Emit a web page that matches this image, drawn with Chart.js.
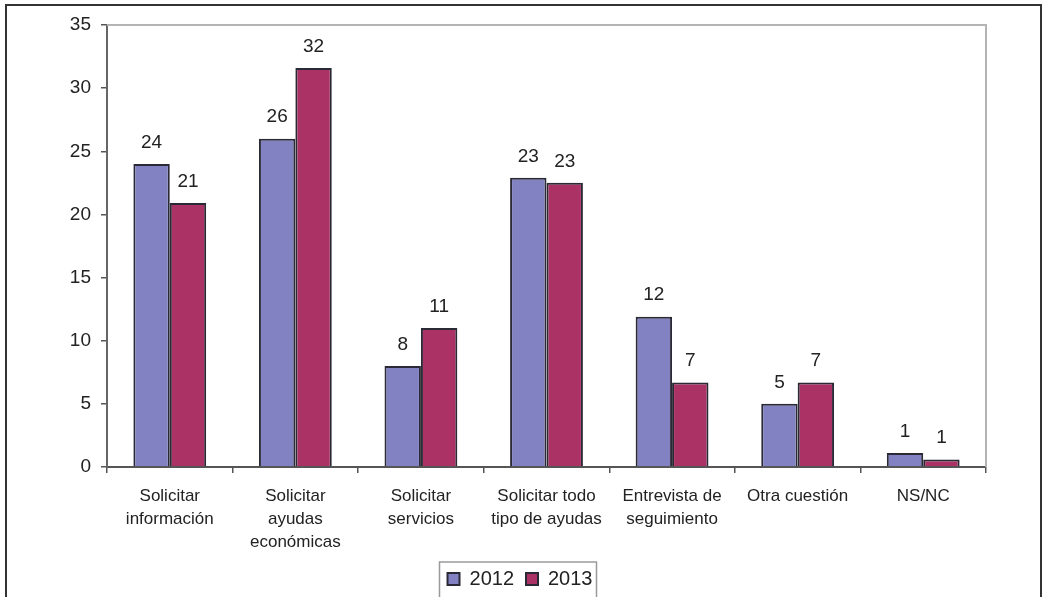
<!DOCTYPE html>
<html>
<head>
<meta charset="utf-8">
<script src="https://cdn.jsdelivr.net/npm/chart.js@4"></script>
<style>
  html, body { margin: 0; padding: 0; background: #fff; overflow: hidden; }
  #wrap { position: relative; width: 1050px; height: 597px; overflow: hidden; }
  #frame { position: absolute; left: 5px; top: 4px; width: 1037px; height: 700px; border: 2px solid #333; box-sizing: border-box; }
  #holder { position: absolute; left: 0; top: 0; width: 1050px; height: 599px; }
</style>
</head>
<body>
<div id="wrap">
  <div id="frame"></div>
  <div id="holder"><canvas id="c" width="1050" height="599"></canvas></div>
</div>
<script>
// Motivos de la consulta, 2012 frente a 2013
const categories = [
  ['Solicitar', 'información'],
  ['Solicitar', 'ayudas', 'económicas'],
  ['Solicitar', 'servicios'],
  ['Solicitar todo', 'tipo de ayudas'],
  ['Entrevista de', 'seguimiento'],
  ['Otra cuestión'],
  ['NS/NC']
];
const values2012 = [24, 26, 8, 22.9, 11.9, 5, 1.1];
const values2013 = [20.9, 31.6, 11, 22.5, 6.7, 6.7, 0.6];
const yTicks = [0, 5, 10, 15, 20, 25, 30, 35];

const FONT = "'Liberation Sans', Arial, sans-serif";
const TEXT = '#222';

// Value labels above each bar
const valueLabels = {
  id: 'valueLabels',
  afterDatasetsDraw(chart) {
    const ctx = chart.ctx;
    ctx.save();
    ctx.font = '19px ' + FONT;
    ctx.fillStyle = TEXT;
    ctx.textAlign = 'center';
    ctx.textBaseline = 'bottom';
    chart.data.datasets.forEach((ds, i) => {
      chart.getDatasetMeta(i).data.forEach((bar, j) => {
        ctx.fillText(String(Math.round(ds.data[j])), bar.x, bar.y - 12);
      });
    });
    ctx.restore();
  }
};

// Nudge the legend so it sits centred under the whole page width
const legendShift = {
  id: 'legendShift',
  afterLayout(chart) {
    const l = chart.legend;
    if (!l) return;
    const d = 27;
    l.left += d;
    l.right += d;
    (l.legendHitBoxes || []).forEach(b => { b.left += d; });
  }
};

// Light frame on the top and right of the plot area, box around the legend
const frames = {
  id: 'frames',
  beforeDatasetsDraw(chart) {
    const a = chart.chartArea, ctx = chart.ctx;
    ctx.save();
    ctx.strokeStyle = '#b4b4b4';
    ctx.lineWidth = 2;
    ctx.beginPath();
    ctx.moveTo(a.left, a.top);
    ctx.lineTo(a.right, a.top);
    ctx.lineTo(a.right, a.bottom);
    ctx.stroke();
    ctx.restore();
  },
  afterDraw(chart) {
    const boxes = chart.legend && chart.legend.legendHitBoxes;
    if (!boxes || !boxes.length) return;
    let x0 = Infinity, y0 = Infinity, x1 = -Infinity, y1 = -Infinity;
    boxes.forEach(b => {
      x0 = Math.min(x0, b.left); y0 = Math.min(y0, b.top);
      x1 = Math.max(x1, b.left + b.width); y1 = Math.max(y1, b.top + b.height);
    });
    const ctx = chart.ctx;
    ctx.save();
    ctx.strokeStyle = '#9a9a9a';
    ctx.lineWidth = 1.5;
    ctx.strokeRect(x0 - 8, y0 - 7, (x1 - x0) + 12, (y1 - y0) + 20);
    ctx.restore();
  }
};

new Chart(document.getElementById('c'), {
  type: 'bar',
  data: {
    labels: categories,
    datasets: [
      { label: '2012', data: values2012, backgroundColor: '#8282c2', borderColor: '#2a2a36', borderWidth: 2, borderSkipped: 'bottom' },
      { label: '2013', data: values2013, backgroundColor: '#ab3264', borderColor: '#2a2a36', borderWidth: 2, borderSkipped: 'bottom' }
    ]
  },
  options: {
    responsive: false,
    animation: false,
    layout: { padding: { left: 0, right: 64, top: 25, bottom: 0 } },
    datasets: { bar: { categoryPercentage: 0.58, barPercentage: 1.0 } },
    plugins: {
      legend: {
        position: 'bottom',
        labels: {
          font: { family: FONT, size: 20 },
          color: TEXT,
          boxWidth: 12,
          boxHeight: 12,
          padding: 12
        }
      },
      tooltip: { enabled: false }
    },
    scales: {
      x: {
        grid: { display: true, drawOnChartArea: false, color: '#555', tickLength: 6, lineWidth: 1.5 },
        border: { color: '#555', width: 2 },
        ticks: { font: { family: FONT, size: 17, lineHeight: 1.35 }, color: TEXT, padding: 12, maxRotation: 0, autoSkip: false },
        afterFit(s) { s.height = 90; }
      },
      y: {
        min: 0, max: 35,
        afterBuildTicks(s) { s.ticks = yTicks.map(v => ({ value: v })); },
        grid: { display: true, drawOnChartArea: false, color: '#555', tickLength: 6, lineWidth: 1.5 },
        border: { color: '#666', width: 2 },
        ticks: { font: { family: FONT, size: 19 }, color: TEXT, padding: 10 },
        afterFit(s) { s.width = 107; }
      }
    }
  },
  plugins: [valueLabels, legendShift, frames]
});
</script>
</body>
</html>
